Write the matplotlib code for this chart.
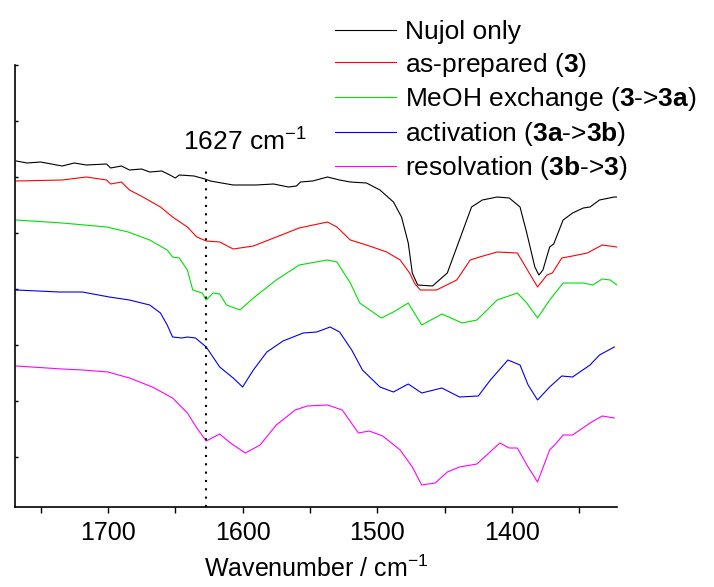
import matplotlib
matplotlib.use("Agg")
import matplotlib.pyplot as plt
from matplotlib.ticker import MultipleLocator

plt.rcParams['font.family'] = ['Liberation Sans', 'DejaVu Sans']
plt.rcParams['mathtext.fontset'] = 'custom'
plt.rcParams['mathtext.rm'] = 'Liberation Sans'
plt.rcParams['mathtext.bf'] = 'Liberation Sans:bold'

# spectra: wavenumber (cm-1) and offset transmittance (a.u.)
nujol_wn = [1768, 1760, 1750, 1742, 1734, 1725, 1716, 1701, 1698, 1690, 1684, 1675,
            1669, 1660, 1654, 1650, 1647, 1636, 1628, 1624, 1607, 1590, 1577, 1566,
            1560, 1557, 1548, 1537, 1528, 1520, 1508, 1498, 1488, 1482, 1477, 1474,
            1470, 1459, 1448, 1439, 1430, 1422, 1411, 1402, 1394, 1389, 1383, 1380,
            1377, 1372, 1369, 1362, 1355, 1347, 1342, 1335, 1324, 1322]
nujol_t = [346, 344, 345, 343, 341, 344, 342, 343, 339, 341, 337, 338,
           335, 336, 332, 329, 332, 331, 328, 326, 322, 322, 323, 320,
           321, 325, 326, 330, 327, 325, 324, 317, 305, 290, 264, 234,
           222, 221, 234, 267, 300, 307, 310, 309, 300, 274, 240, 232,
           237, 260, 263, 287, 294, 299, 300, 307, 310, 310]

prep_wn = [1768, 1734, 1716, 1701, 1698, 1690, 1684, 1674, 1661, 1652, 1641, 1634,
           1627, 1617, 1607, 1592, 1575, 1558, 1537, 1530, 1520, 1508, 1493, 1483,
           1476, 1472, 1468, 1456, 1441, 1431, 1424, 1411, 1396, 1392, 1381, 1374,
           1370, 1363, 1355, 1344, 1333, 1322]
prep_t = [326, 327, 330, 327, 323, 325, 317, 310, 300, 290, 280, 270,
          266, 265, 258, 261, 270, 279, 285, 280, 267, 262, 255, 247,
          234, 223, 217, 217, 227, 247, 250, 255, 254, 245, 220, 232,
          234, 249, 251, 254, 262, 260]

meoh_wn = [1768, 1734, 1701, 1685, 1669, 1656, 1652, 1647, 1641, 1637, 1630, 1627,
           1622, 1617, 1612, 1602, 1592, 1575, 1558, 1537, 1530, 1520, 1513, 1497,
           1488, 1477, 1467, 1452, 1437, 1426, 1411, 1396, 1389, 1381, 1372, 1362,
           1347, 1340, 1333, 1327, 1322]
meoh_t = [287, 284, 280, 275, 267, 257, 250, 249, 237, 217, 214, 207,
          214, 213, 202, 197, 209, 227, 242, 247, 245, 224, 204, 189,
          195, 204, 182, 193, 184, 187, 207, 214, 204, 189, 207, 224,
          224, 222, 228, 227, 222]

act_wn = [1768, 1736, 1719, 1699, 1684, 1669, 1661, 1656, 1652, 1645, 1641, 1635,
          1627, 1617, 1607, 1600, 1592, 1582, 1570, 1555, 1545, 1535, 1528, 1519,
          1511, 1498, 1488, 1477, 1467, 1452, 1439, 1425, 1416, 1403, 1394, 1388,
          1381, 1372, 1363, 1355, 1342, 1335, 1324]
act_t = [217, 215, 215, 210, 207, 202, 194, 182, 170, 169, 170, 169,
         160, 140, 129, 120, 137, 155, 166, 174, 175, 180, 175, 157,
         137, 120, 115, 123, 114, 119, 110, 111, 127, 147, 142, 122,
         107, 120, 131, 130, 142, 152, 160]

resolv_wn = [1768, 1734, 1719, 1700, 1684, 1667, 1652, 1641, 1634, 1627, 1617, 1609,
             1598, 1587, 1575, 1561, 1552, 1537, 1526, 1514, 1506, 1496, 1483, 1474,
             1467, 1457, 1448, 1439, 1426, 1409, 1402, 1396, 1388, 1381, 1372, 1367,
             1362, 1355, 1342, 1333, 1324]
resolv_t = [141, 138, 137, 135, 129, 120, 109, 94, 79, 66, 73, 64,
            54, 62, 82, 97, 101, 102, 97, 74, 76, 71, 57, 40,
            22, 24, 35, 40, 43, 64, 59, 59, 40, 25, 57, 64,
            72, 72, 84, 91, 89]

labels = ['Nujol only',
          r'as-prepared ($\mathbf{3}$)',
          r'MeOH exchange ($\mathbf{3}$->$\mathbf{3a}$)',
          r'activation ($\mathbf{3a}$->$\mathbf{3b}$)',
          r'resolvation ($\mathbf{3b}$->$\mathbf{3}$)']
colors = ['black', '#ff0000', '#00e000', '#0000ee', '#ff00ff']
series = [(nujol_wn, nujol_t), (prep_wn, prep_t), (meoh_wn, meoh_t),
          (act_wn, act_t), (resolv_wn, resolv_t)]

marker_wn = 1627

fig = plt.figure(figsize=(7.14, 5.87), dpi=100)
ax = fig.add_axes([15/714, 80/587, 602/714, 442/587])

for (wn, t), c, lab in zip(series, colors, labels):
    ax.plot(wn, t, color=c, lw=0.8, label=lab)

ax.plot([marker_wn, marker_wn], [0, 341], color='black', lw=1.5,
        linestyle=(0, (1, 3)))
ax.text(1644, 352, '1627 cm$^{-1}$', ha='left', va='bottom', fontsize=19)

ax.set_xlim(1769, 1322)
ax.set_ylim(0, 442)
ax.xaxis.set_major_locator(MultipleLocator(100))
ax.xaxis.set_minor_locator(MultipleLocator(50))
ax.set_yticks([50, 106, 162, 218, 274, 330, 386, 442])
ax.set_yticklabels([])
ax.tick_params(axis='x', which='both', direction='out', length=4, width=1,
               labelsize=18, pad=6)
ax.tick_params(axis='y', direction='in', length=2, width=1)
for s in ['top', 'right']:
    ax.spines[s].set_visible(False)
for s in ['left', 'bottom']:
    ax.spines[s].set_linewidth(1.2)
ax.set_xlabel('Wavenumber / cm$^{-1}$', fontsize=18, labelpad=8)

fig.legend(loc='upper left', bbox_to_anchor=(335/714, 1 - 20/587), frameon=False,
           fontsize=19, handlelength=2.3, handletextpad=0.35, labelspacing=0.25,
           borderpad=0, borderaxespad=0)

fig.savefig('out.png', dpi=100)
